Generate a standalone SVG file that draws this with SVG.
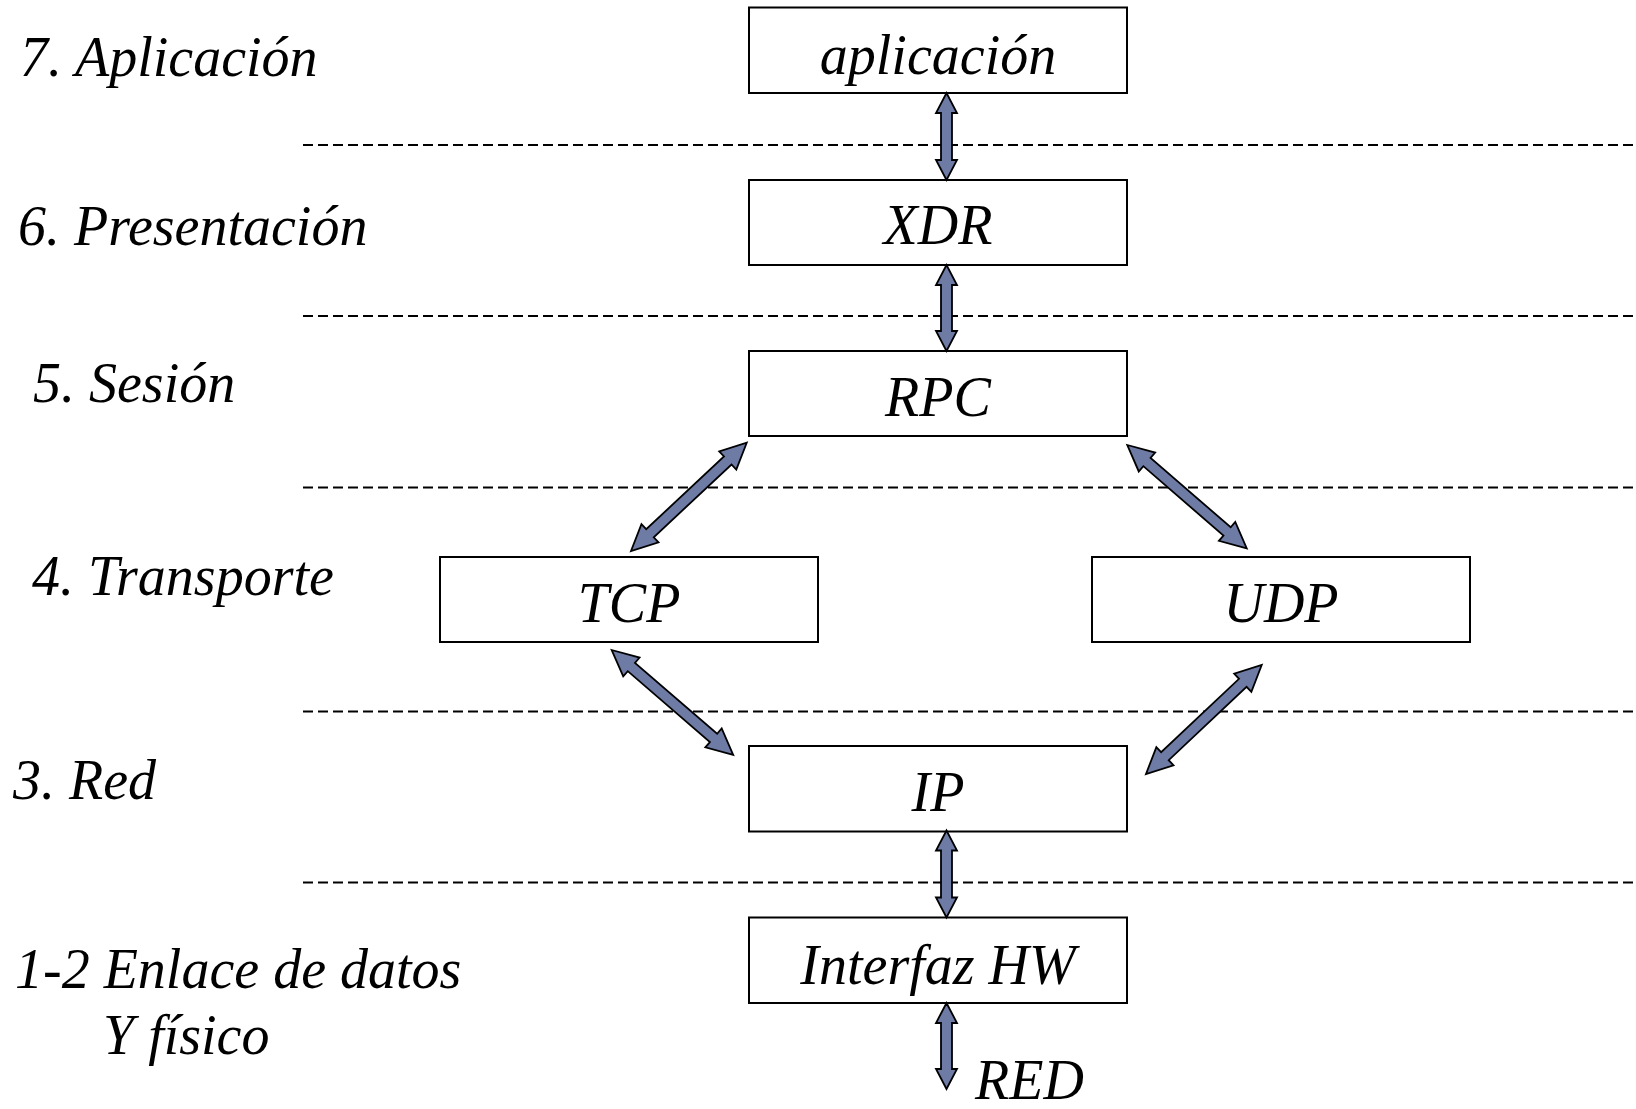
<svg xmlns="http://www.w3.org/2000/svg" width="1636" height="1109" viewBox="0 0 1636 1109">
  <style>
    .box { fill: #ffffff; stroke: #000000; stroke-width: 2; }
    .txt { font-family: "Liberation Serif", "Times New Roman", serif; font-style: italic; font-size: 56px; fill: #000000; }
    .mid { text-anchor: middle; }
    .sep { stroke: #000000; stroke-width: 2; stroke-dasharray: 10 5; fill: none; }
    .arr { fill: #6E7BA5; stroke: #000000; stroke-width: 1.8; stroke-linejoin: miter; }
  </style>
  <rect width="1636" height="1109" fill="#ffffff"/>

  <!-- layer separators -->
  <g id="separators">
    <line class="sep" x1="303" y1="145" x2="1636" y2="145"/>
    <line class="sep" x1="303" y1="316" x2="1636" y2="316"/>
    <line class="sep" x1="303" y1="487.5" x2="1636" y2="487.5"/>
    <line class="sep" x1="303" y1="711.5" x2="1636" y2="711.5"/>
    <line class="sep" x1="303" y1="882.5" x2="1636" y2="882.5"/>
  </g>

  <!-- OSI layer names -->
  <g id="layer-labels" class="txt">
    <text x="20" y="76">7. Aplicación</text>
    <text x="18" y="245">6. Presentación</text>
    <text x="33" y="402">5. Sesión</text>
    <text x="32" y="595">4. Transporte</text>
    <text x="13" y="799">3. Red</text>
    <text x="15" y="988">1-2 Enlace de datos</text>
    <text x="103" y="1054">Y físico</text>
  </g>

  <!-- protocol stack -->
  <g id="node-aplicacion">
    <rect class="box" x="749" y="7.5" width="378" height="85.5"/>
    <text class="txt mid" x="938" y="74">aplicación</text>
  </g>
  <g id="node-xdr">
    <rect class="box" x="749" y="180" width="378" height="85"/>
    <text class="txt mid" x="938" y="244">XDR</text>
  </g>
  <g id="node-rpc">
    <rect class="box" x="749" y="351" width="378" height="85"/>
    <text class="txt mid" x="938" y="416">RPC</text>
  </g>
  <g id="node-tcp">
    <rect class="box" x="440" y="557" width="378" height="85"/>
    <text class="txt mid" x="629" y="622">TCP</text>
  </g>
  <g id="node-udp">
    <rect class="box" x="1092" y="557" width="378" height="85"/>
    <text class="txt mid" x="1281" y="622">UDP</text>
  </g>
  <g id="node-ip">
    <rect class="box" x="749" y="746" width="378" height="85.5"/>
    <text class="txt mid" x="938" y="811">IP</text>
  </g>
  <g id="node-hw">
    <rect class="box" x="749" y="917.5" width="378" height="85.5"/>
    <text class="txt mid" x="938" y="984">Interfaz HW</text>
  </g>
  <g id="node-red">
    <text class="txt" x="975" y="1099">RED</text>
  </g>

  <!-- double-headed block arrows; each drawn along +x from its start point -->
  <g id="connectors">
    <!-- vertical links -->
    <polygon class="arr" transform="translate(946.5,93) rotate(90)" points="0,0 20,-10.5 20,-5.5 67,-5.5 67,-10.5 87,0 67,10.5 67,5.5 20,5.5 20,10.5"/>
    <polygon class="arr" transform="translate(946.5,265) rotate(90)" points="0,0 20,-10.5 20,-5.5 66,-5.5 66,-10.5 86,0 66,10.5 66,5.5 20,5.5 20,10.5"/>
    <polygon class="arr" transform="translate(946.5,830.5) rotate(90)" points="0,0 20,-10.5 20,-5.5 67,-5.5 67,-10.5 87,0 67,10.5 67,5.5 20,5.5 20,10.5"/>
    <polygon class="arr" transform="translate(946.5,1003) rotate(90)" points="0,0 20,-10.5 20,-5.5 66,-5.5 66,-10.5 86,0 66,10.5 66,5.5 20,5.5 20,10.5"/>
    <!-- RPC to TCP -->
    <polygon class="arr" transform="translate(631,551) rotate(-43.1)" points="0,0 26,-12.5 26,-5.5 132.5,-5.5 132.5,-12.5 158.5,0 132.5,12.5 132.5,5.5 26,5.5 26,12.5"/>
    <!-- RPC to UDP -->
    <polygon class="arr" transform="translate(1127.3,445) rotate(40.9)" points="0,0 26,-12.5 26,-5.5 132,-5.5 132,-12.5 158,0 132,12.5 132,5.5 26,5.5 26,12.5"/>
    <!-- TCP to IP -->
    <polygon class="arr" transform="translate(611.7,650) rotate(40.8)" points="0,0 26,-12.5 26,-5.5 134.5,-5.5 134.5,-12.5 160.5,0 134.5,12.5 134.5,5.5 26,5.5 26,12.5"/>
    <!-- UDP to IP -->
    <polygon class="arr" transform="translate(1146,774) rotate(-43.3)" points="0,0 26,-12.5 26,-5.5 133,-5.5 133,-12.5 159,0 133,12.5 133,5.5 26,5.5 26,12.5"/>
  </g>
</svg>
